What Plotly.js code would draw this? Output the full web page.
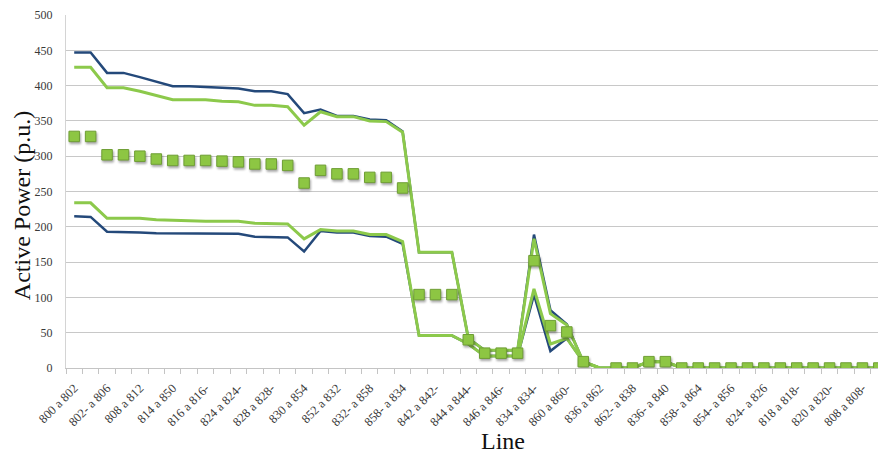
<!DOCTYPE html>
<html>
<head>
<meta charset="utf-8">
<script src="https://cdn.plot.ly/plotly-3.0.1.min.js"></script>
<style>
  html, body { margin: 0; padding: 0; background: #fff; overflow: hidden; }
  #chart { width: 878px; height: 456px; }
  /* soft drop shadow under the square markers */
  .scatterlayer .trace:last-child .points path {
    filter: drop-shadow(1px 2px 1px rgba(0,0,0,0.35));
  }
</style>
</head>
<body>
<div id="chart"></div>
<script>
// Line labels shown on the axis (every other line section)
const tickLabels = [
  "800 a 802", "802- a 806", "808 a 812", "814 a 850", "816 a 816-",
  "824 a 824-", "828 a 828-", "830 a 854", "852 a 832", "832- a 858",
  "858- a 834", "842 a 842-", "844 a 844-", "846 a 846-", "834 a 834-",
  "860 a 860-", "836 a 862", "862- a 838", "836- a 840", "858- a 864",
  "854- a 856", "824- a 826", "818 a 818-", "820 a 820-", "808 a 808-"
];

// Active power per line section (p.u.)
const blueUpper = [447, 447, 418, 418, 412, 405, 399, 399, 398, 397,
                   396, 392, 392, 388, 361, 366, 357, 357, 352, 351,
                   335, 164, 164, 164, 42, 25, 25, 25, 189, 82,
                   62, 9, 0, 0, 0, 9, 9, 0, 0, 0,
                   0, 0, 0, 0, 0, 0, 0, 0, 0, 0];
const greenUpper = [426, 426, 397, 397, 392, 386, 380, 380, 380, 378,
                    377, 372, 372, 370, 344, 363, 356, 356, 350, 349,
                    334, 164, 164, 164, 42, 25, 25, 25, 183, 77,
                    61, 9, 0, 0, 0, 9, 9, 0, 0, 0,
                    0, 0, 0, 0, 0, 0, 0, 0, 0, 0];
const greenLower = [234, 234, 212, 212, 212, 210, 209, 209, 208, 208,
                    208, 205, 205, 204, 183, 196, 194, 194, 189, 189,
                    179, 46, 46, 46, 34, 17, 17, 17, 112, 34,
                    42, 9, 0, 0, 0, 9, 9, 0, 0, 0,
                    0, 0, 0, 0, 0, 0, 0, 0, 0, 0];
const blueLower = [215, 214, 193, 193, 192, 191, 191, 191, 191, 190,
                   190, 186, 186, 185, 165, 194, 192, 192, 187, 186,
                   176, 46, 46, 46, 34, 17, 17, 17, 104, 24,
                   42, 9, 0, 0, 0, 9, 9, 0, 0, 0,
                   0, 0, 0, 0, 0, 0, 0, 0, 0, 0];
const points = [328, 328, 302, 302, 300, 296, 294, 294, 294, 293,
                292, 289, 289, 287, 262, 280, 275, 275, 270, 270,
                255, 104, 104, 104, 40, 21, 21, 21, 152, 60,
                51, 9, null, 0, 0, 9, 9, 0, 0, 0,
                0, 0, 0, 0, 0, 0, 0, 0, 0, 0];

const xs = blueUpper.map((_, i) => i);
const tickPositions = tickLabels.map((_, i) => 2 * i);

const BLUE = "#24497a";
const GREEN = "#8cc94b";

function lineTrace(y, color, width) {
  return {
    x: xs, y: y, type: "scatter", mode: "lines",
    line: { color: color, width: width },
    hoverinfo: "skip", showlegend: false
  };
}

const data = [
  lineTrace(blueUpper, BLUE, 2.5),
  lineTrace(blueLower, BLUE, 2.5),
  lineTrace(greenUpper, GREEN, 3),
  lineTrace(greenLower, GREEN, 3),
  {
    x: xs, y: points, type: "scatter", mode: "markers",
    marker: { symbol: "square", size: 10.5, color: "#8dc643",
              line: { color: "#6f9e35", width: 1 } },
    showlegend: false
  }
];

const serif = "'Liberation Serif', 'Times New Roman', serif";

const layout = {
  width: 878, height: 456,
  margin: { l: 66, r: 0, t: 15, b: 88 },
  font: { family: serif },
  paper_bgcolor: "#fff", plot_bgcolor: "#fff",
  showlegend: false,
  xaxis: {
    range: [-0.5, 48.95],
    tickmode: "array", tickvals: tickPositions, ticktext: tickLabels,
    tickangle: -45, ticks: "", ticklabelstandoff: 7,
    tickfont: { family: serif, size: 12.5, color: "#3a3a3a" },
    showgrid: false, zeroline: false,
    showline: true, linecolor: "#c4c4c4", linewidth: 1,
    minor: { tickmode: "linear", tick0: -0.5, dtick: 1, ticks: "outside",
             ticklen: 5, tickcolor: "#c4c4c4", showgrid: false }
  },
  yaxis: {
    range: [0, 500], tickmode: "linear", tick0: 0, dtick: 50,
    ticks: "", ticklabelstandoff: 10,
    tickfont: { family: serif, size: 12, color: "#3a3a3a" },
    showgrid: true, gridcolor: "#c8c8c8", gridwidth: 1,
    zeroline: false, showline: true, linecolor: "#d4d4d4", linewidth: 1
  },
  annotations: [
    { text: "Active Power (p.u.)", xref: "paper", yref: "paper",
      x: -0.054, y: 0.459, xanchor: "center", yanchor: "middle",
      textangle: -90, showarrow: false,
      font: { family: serif, size: 24, color: "#111" } },
    { text: "Line", xref: "paper", yref: "paper",
      x: 0.538, y: -0.207, xanchor: "center", yanchor: "middle",
      showarrow: false,
      font: { family: serif, size: 24, color: "#111" } }
  ]
};

Plotly.newPlot("chart", data, layout, { displayModeBar: false, staticPlot: true });
</script>
</body>
</html>
